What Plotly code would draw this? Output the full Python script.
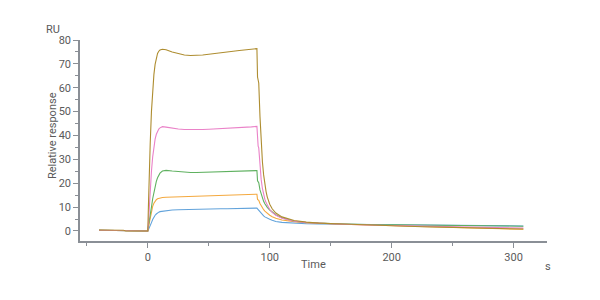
import plotly.graph_objects as go

time_s = [-40, -30, -20, -18, -10, 0,
          0.5, 1, 2, 3, 4, 5, 6, 7, 8, 9, 10,
          12, 15, 20, 25, 30, 35, 40, 45, 50, 55, 60, 65, 70, 75, 80, 85, 89.5,
          90, 90.5, 91, 92, 93, 94, 95, 96, 97, 98,
          100, 102, 105, 110, 115, 120, 130, 140, 160, 180, 200, 225, 250, 275, 308]

brown = [0.4, 0.4, 0.3, 0.0, 0.0, 0.0,
         10, 22, 37, 50, 59, 65.5, 69.8, 72.7, 74.4, 75.3, 75.8,
         76.1, 75.9, 75.0, 74.2, 73.7, 73.5, 73.5, 73.7, 74.0, 74.4, 74.7, 75.0, 75.3, 75.6, 75.9, 76.1, 76.4,
         64.5, 63.5, 62, 48, 37, 29, 23.5, 19.5, 16.5, 14.2,
         11.2, 9.3, 7.5, 5.9, 5.0, 4.4, 3.7, 3.3, 2.9, 2.5, 2.2, 1.8, 1.5, 1.2, 0.8]

pink = [0.3, 0.3, 0.2, 0.0, 0.0, 0.0,
        3, 8, 17, 25, 31, 35.5, 38.5, 40.5, 41.8, 42.7, 43.2,
        43.7, 43.5, 43.0, 42.7, 42.5, 42.4, 42.4, 42.5, 42.6, 42.7, 42.9, 43.0, 43.2, 43.3, 43.5, 43.6, 43.8,
        36, 35.5, 34.8, 27, 21.5, 17.8, 15.2, 13.3, 11.9, 10.8,
        9.0, 7.8, 6.6, 5.3, 4.6, 4.1, 3.5, 3.2, 2.8, 2.5, 2.3, 2.0, 1.8, 1.5, 1.2]

green = [0.3, 0.3, 0.2, 0.0, 0.0, 0.0,
         2, 4, 7, 10, 13.5, 16.5, 18.8, 20.8, 22.3, 23.4, 24.2,
         25.1, 25.4, 25.1, 24.8, 24.6, 24.5, 24.5, 24.6, 24.7, 24.7, 24.8, 24.9, 24.9, 25.0, 25.1, 25.2, 25.3,
         21, 20.6, 20.2, 17.2, 15.2, 13.7, 12.4, 11.4, 10.6, 9.9,
         8.8, 7.9, 6.8, 5.5, 4.7, 4.1, 3.5, 3.2, 2.9, 2.7, 2.6, 2.4, 2.3, 2.1, 2.0]

orange = [0.3, 0.3, 0.2, 0.0, 0.0, 0.0,
          1.5, 3, 6, 8.5, 10.3, 11.6, 12.5, 13.1, 13.5, 13.7, 13.9,
          14.0, 14.1, 14.2, 14.2, 14.3, 14.3, 14.4, 14.5, 14.6, 14.7, 14.8, 14.9, 15.0, 15.1, 15.2, 15.3, 15.4,
          13.2, 13.0, 12.8, 11.5, 10.4, 9.6, 8.9, 8.3, 7.8, 7.4,
          6.6, 6.0, 5.3, 4.6, 4.2, 3.9, 3.5, 3.2, 2.8, 2.5, 2.2, 1.8, 1.5, 1.1, 0.7]

blue = [0.3, 0.3, 0.2, 0.0, 0.0, 0.0,
        0.5, 1, 2.2, 3.5, 4.8, 5.8, 6.6, 7.1, 7.6, 7.9, 8.1,
        8.3, 8.6, 8.8, 8.9, 9.0, 9.0, 9.1, 9.1, 9.2, 9.2, 9.3, 9.3, 9.4, 9.4, 9.5, 9.5, 9.6,
        9.3, 9.0, 8.5, 7.8, 7.2, 6.7, 6.3, 5.9, 5.6, 5.3,
        4.9, 4.5, 4.0, 3.6, 3.4, 3.2, 3.0, 2.9, 2.8, 2.6, 2.5, 2.4, 2.3, 2.2, 2.1]

series = [("blue", blue, "#62a3db"),
          ("orange", orange, "#f4a93f"),
          ("green", green, "#5fb160"),
          ("pink", pink, "#ea82c8"),
          ("brown", brown, "#ae8d30")]

fig = go.Figure()
for name, vals, col in series:
    fig.add_trace(go.Scatter(x=time_s, y=vals, mode="lines", name=name,
                             line=dict(color=col, width=1.1), showlegend=False))

font_col = "#5a5a5a"
axis_col = "#8a8f96"

fig.update_layout(
    width=600, height=300,
    margin=dict(l=80, r=53, t=40, b=59),
    paper_bgcolor="white", plot_bgcolor="white",
    font=dict(family="Roboto, Arial, sans-serif", size=11, color=font_col),
    xaxis=dict(range=[-55.6, 327.4], showgrid=False, zeroline=False,
               showline=True, linecolor=axis_col, linewidth=1.5,
               ticks="outside", ticklen=5, tickcolor=axis_col, tickwidth=1,
               tickvals=[0, 100, 200, 300], tickfont=dict(size=11, color=font_col),
               minor=dict(ticks="outside", ticklen=3, tickcolor=axis_col,
                          tickvals=[-50, 50, 150, 250])),
    yaxis=dict(range=[-4.2, 80], showgrid=False, zeroline=False,
               showline=True, linecolor=axis_col, linewidth=1.5,
               ticks="outside", ticklen=5, tickcolor=axis_col, tickwidth=1,
               tickvals=[0, 10, 20, 30, 40, 50, 60, 70, 80],
               tickfont=dict(size=11, color=font_col),
               minor=dict(ticks="outside", ticklen=3, tickcolor=axis_col,
                          tickvals=[5, 15, 25, 35, 45, 55, 65, 75])),
    annotations=[
        dict(text="RU", x=-0.058, y=1.05, xref="paper", yref="paper",
             showarrow=False, xanchor="center", yanchor="middle",
             font=dict(size=11, color=font_col)),
        dict(text="s", x=1.002, y=-0.129, xref="paper", yref="paper",
             showarrow=False, xanchor="center", yanchor="middle",
             font=dict(size=11, color=font_col)),
        dict(text="Time", x=0.499, y=-0.119, xref="paper", yref="paper",
             showarrow=False, xanchor="center", yanchor="middle",
             font=dict(size=11, color=font_col)),
        dict(text="Relative response", x=-0.06, y=0.527, xref="paper", yref="paper",
             showarrow=False, xanchor="center", yanchor="middle", textangle=-90,
             font=dict(size=11, color=font_col)),
    ],
)

fig.write_html("out.html")
